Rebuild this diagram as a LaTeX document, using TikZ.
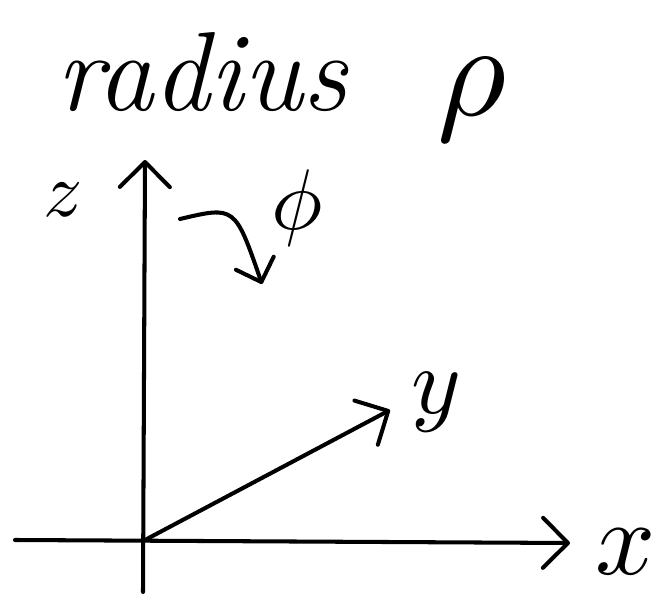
\documentclass[tikz,border=0pt]{standalone}
\usepackage{graphicx}
\usepackage{tikz}
\usetikzlibrary{arrows.meta}

\begin{document}
\begin{tikzpicture}[
  x=0.02cm,y=-0.02cm,
  axis/.style={line width=2.3pt,line cap=round,line join=round,-{Straight Barb[length=5mm,width=10mm,round]}},
  lbl/.style={inner sep=0pt}
]
  \useasboundingbox (0,0) rectangle (654,598);

  % title
  \node[lbl,font=\fontsize{64}{70}\selectfont\itshape] (radius) at (202,72) {radius};
  \node[lbl] (rho) at (472,100) {\scalebox{7.6}{$\rho$}};

  % axes
  \coordinate (O) at (145,540);
  \coordinate (zbot) at (143,592);
  \coordinate (xleft) at (15,540);
  \coordinate (ztop) at (145,160);
  \coordinate (xtip) at (570,543);
  \coordinate (ytip) at (390,410);
  \draw[axis] (zbot) -- (ztop);
  \draw[axis] (xleft) -- (xtip);
  \draw[axis] (O) -- (ytip);

  % labels
  \node[lbl] (zlab) at (63,200) {\scalebox{4.4}{$z$}};
  \node[lbl] (ylab) at (436,402) {\scalebox{5.4}{$y$}};
  \node[lbl] (xlab) at (626,552) {\scalebox{6}{$x$}};
  \node[lbl] (philab) at (297,208) {\scalebox{4.9}{$\phi$}};

  % rotation
  \coordinate (phistart) at (180,219);
  \coordinate (phiend) at (262,284);
  \draw[axis,-{Straight Barb[length=4mm,width=8mm,round]}] (phistart) .. controls (235,206) .. (phiend);
\end{tikzpicture}
\end{document}
